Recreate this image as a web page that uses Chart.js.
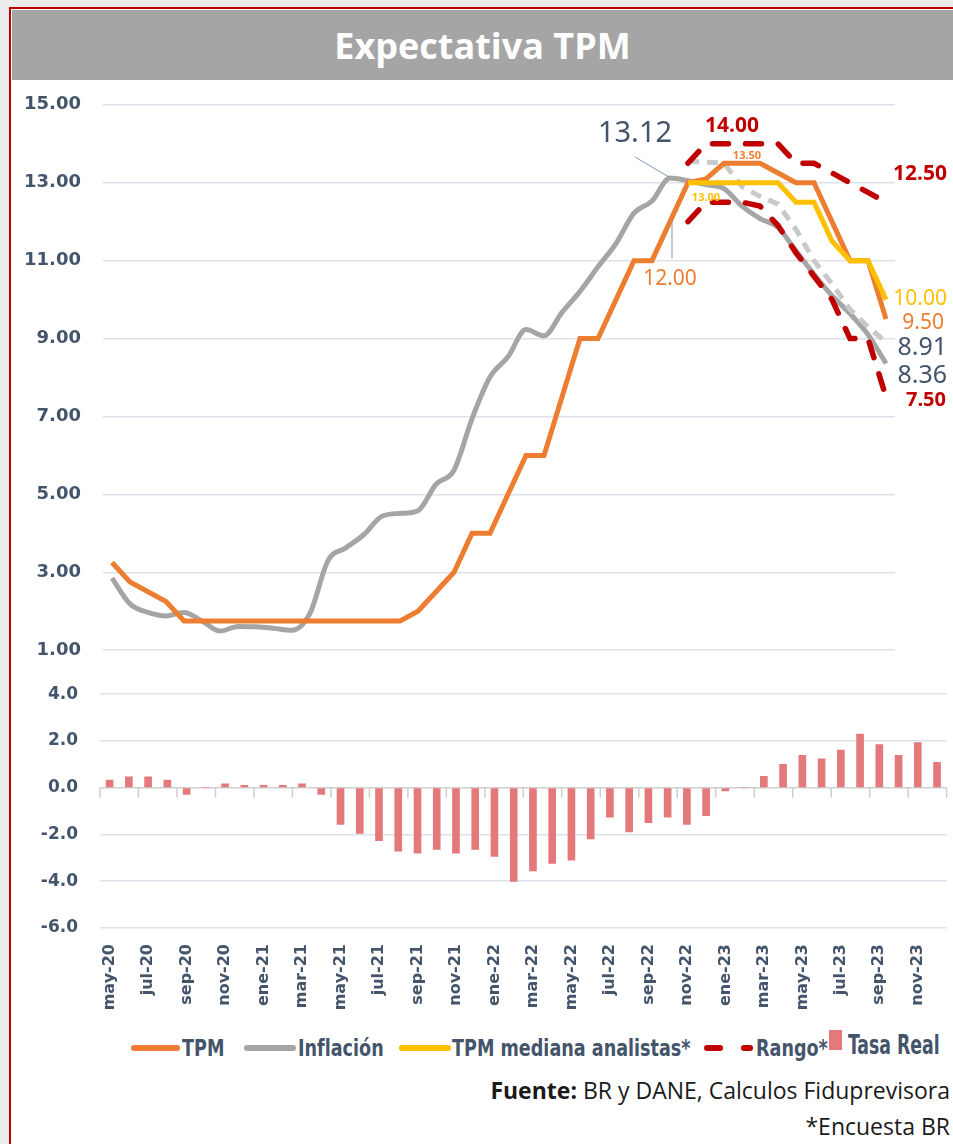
<!DOCTYPE html>
<html lang="es">
<head>
<meta charset="UTF-8">
<title>Expectativa TPM</title>
<script src="https://cdn.jsdelivr.net/npm/chart.js"></script>
<style>
  html, body { margin: 0; padding: 0; }
  body { width: 953px; height: 1144px; overflow: hidden; position: relative; background: #ececec; }
  #marco { position: absolute; left: 9px; top: 7px; width: 980px; height: 1160px; background: #fff;
           border-left: 2px solid #c00000; border-top: 2px solid #c00000; }
  #titulo { position: absolute; left: 12px; top: 10px; width: 941px; height: 70px; background: #a5a5a5;
            color: #fff; font: bold 36px "Open Sans", sans-serif; text-align: center; line-height: 72px; }
  canvas { position: absolute; left: 0; }
  #cTop { top: 72px; }
  #cBot { top: 662px; }
  .ley { position: absolute; top: 1033px; height: 30px; color: #44546a; transform: scaleX(0.85); transform-origin: left center;
         font: bold 23px "Liberation Sans Narrow", "DejaVu Sans Condensed", sans-serif; line-height: 30px; white-space: nowrap; }
  .sw { position: absolute; height: 6px; border-radius: 3px; top: 1045px; }
  .fuente { position: absolute; right: 3px; color: #1a1a1a; font: 23px "Open Sans", sans-serif; white-space: nowrap; }
</style>
</head>
<body>
<div id="marco"></div>
<div id="titulo">Expectativa TPM</div>
<canvas id="cTop" width="953" height="611"></canvas>
<canvas id="cBot" width="953" height="360"></canvas>

<div class="sw" style="left:131px;width:49px;background:#ed7d31"></div>
<div class="ley" style="left:182px">TPM</div>
<div class="sw" style="left:244px;width:52px;background:#a5a5a5"></div>
<div class="ley" style="left:298px">Inflación</div>
<div class="sw" style="left:399px;width:52px;background:#ffc000"></div>
<div class="ley" style="left:452px">TPM mediana analistas*</div>
<div class="sw" style="left:704px;width:19px;background:#c00000"></div>
<div class="sw" style="left:741px;width:12px;background:#c00000"></div>
<div class="ley" style="left:756px">Rango*</div>
<div class="sw" style="left:829px;width:13px;height:20px;border-radius:0;top:1030px;background:#e3797b"></div>
<div class="ley" style="left:848px;top:1030px;font-size:26px;transform:scaleX(0.74)">Tasa Real</div>

<div class="fuente" style="top:1074px"><b>Fuente:</b> BR y DANE, Calculos Fiduprevisora</div>
<div class="fuente" style="top:1110px">*Encuesta BR</div>

<script>
// meses (may-20 a dic-23)
const meses = ['may-20','jun-20','jul-20','ago-20','sep-20','oct-20','nov-20','dic-20',
  'ene-21','feb-21','mar-21','abr-21','may-21','jun-21','jul-21','ago-21','sep-21','oct-21','nov-21','dic-21',
  'ene-22','feb-22','mar-22','abr-22','may-22','jun-22','jul-22','ago-22','sep-22','oct-22','nov-22','dic-22',
  'ene-23','feb-23','mar-23','abr-23','may-23','jun-23','jul-23','ago-23','sep-23','oct-23','nov-23','dic-23'];

const tpm = [3.25, 2.75, 2.50, 2.25, 1.75, 1.75, 1.75, 1.75,
  1.75, 1.75, 1.75, 1.75, 1.75, 1.75, 1.75, 1.75, 1.75, 2.00, 2.50, 3.00,
  4.00, 4.00, 5.00, 6.00, 6.00, 7.50, 9.00, 9.00, 10.00, 11.00, 11.00, 12.00,
  13.00, 13.10, 13.50, 13.50, 13.50, 13.25, 13.00, 13.00, 12.00, 11.00, 11.00, 9.50];

const inflacion = [2.85, 2.19, 1.97, 1.88, 1.97, 1.75, 1.49, 1.61,
  1.60, 1.56, 1.51, 1.95, 3.30, 3.63, 3.97, 4.44, 4.51, 4.58, 5.26, 5.62,
  6.94, 8.01, 8.53, 9.23, 9.07, 9.67, 10.21, 10.84, 11.44, 12.22, 12.53, 13.12,
  13.05, 12.95, 12.85, 12.40, 12.08, 11.85, 11.25, 10.65, 10.10, 9.64, 9.10, 8.36];

// encuesta BR (desde ene-23)
const n = null;
const inflacionEncuesta = [n,n,n,n,n,n,n,n, n,n,n,n,n,n,n,n,n,n,n,n, n,n,n,n,n,n,n,n,n,n,n,n,
  13.55, 13.53, 13.50, 12.90, 12.65, 12.45, 11.80, 11.00, 10.40, 9.75, 9.30, 8.91];
const medianaAnalistas = [n,n,n,n,n,n,n,n, n,n,n,n,n,n,n,n,n,n,n,n, n,n,n,n,n,n,n,n,n,n,n,n,
  13.00, 13.00, 13.00, 13.00, 13.00, 13.00, 12.50, 12.50, 11.50, 11.00, 11.00, 10.00];
const rangoMax = [n,n,n,n,n,n,n,n, n,n,n,n,n,n,n,n,n,n,n,n, n,n,n,n,n,n,n,n,n,n,n,n,
  13.50, 14.00, 14.00, 14.00, 14.00, 14.00, 13.50, 13.50, 13.25, 13.00, 12.75, 12.50];
const rangoMin = [n,n,n,n,n,n,n,n, n,n,n,n,n,n,n,n,n,n,n,n, n,n,n,n,n,n,n,n,n,n,n,n,
  12.00, 12.50, 12.50, 12.50, 12.40, 11.90, 11.20, 10.60, 10.00, 9.00, 9.00, 7.50];

const tasaReal = [0.33, 0.47, 0.47, 0.33, -0.29, 0, 0.17, 0.10,
  0.10, 0.10, 0.17, -0.29, -1.57, -1.96, -2.26, -2.71, -2.80, -2.64, -2.80, -2.64,
  -2.94, -4.01, -3.56, -3.24, -3.10, -2.19, -1.26, -1.89, -1.50, -1.26, -1.57, -1.20,
  -0.14, 0, 0.49, 1.00, 1.39, 1.24, 1.61, 2.29, 1.84, 1.39, 1.93, 1.09];

const ticksTop = [1, 3, 5, 7, 9, 11, 13, 15];
const ticksBot = [-6, -4, -2, 0, 2, 4];

const naranja = '#ed7d31', gris = '#a5a5a5', grisClaro = '#c9c9c9', amarillo = '#ffc000',
      rojo = '#c00000', pizarra = '#44546a', rosa = '#e3797b', rejilla = '#dde2ea';

// etiquetas de datos del grafico superior
const etiquetas = [
  { serie: 'rangoMax', idx: 34, dx: 8, dy: -18, color: rojo, font: 'bold 21px "Noto Sans"', align: 'center' },
  { serie: 'tpm', idx: 34, dx: 23, dy: -7, color: naranja, font: 'bold 11px "Noto Sans"', align: 'center' },
  { serie: 'mediana', idx: 32, dx: 18, dy: 15, color: amarillo, font: 'bold 11px "Noto Sans"', align: 'center' },
  { serie: 'inflacion', idx: 31, dx: -35, dy: -44, color: pizarra, font: '29px "Noto Sans"', align: 'center',
    linea: [-35, -21, -1, -1] },
  { serie: 'tpm', idx: 31, dx: 0, dy: 57, color: naranja, font: '21px "Noto Sans"', align: 'center',
    linea: [2, 37, 2, 0] },
  { serie: 'rangoMax', idx: 43, dx: 61, dy: -28, color: rojo, font: 'bold 21px "Noto Sans"', align: 'right' },
  { serie: 'mediana', idx: 43, dx: 61, dy: -1, color: amarillo, font: '21px "Noto Sans"', align: 'right' },
  { serie: 'tpm', idx: 43, dx: 58, dy: 4, color: naranja, font: '21px "Noto Sans"', align: 'right' },
  { serie: 'inflacionEncuesta', idx: 43, dx: 61, dy: 6, color: pizarra, font: '25px "Noto Sans"', align: 'right' },
  { serie: 'inflacion', idx: 43, dx: 61, dy: 12, color: pizarra, font: '25px "Noto Sans"', align: 'right' },
  { serie: 'rangoMin', idx: 43, dx: 60, dy: 3, color: rojo, font: 'bold 20px "Noto Sans"', align: 'right' }
];

const pluginEtiquetas = {
  id: 'etiquetas',
  afterDatasetsDraw(chart) {
    const ctx = chart.ctx;
    etiquetas.forEach(e => {
      const k = chart.data.datasets.findIndex(d => d.clave === e.serie);
      const pt = chart.getDatasetMeta(k).data[e.idx];
      const v = chart.data.datasets[k].data[e.idx];
      ctx.save();
      if (e.linea) {
        ctx.strokeStyle = '#8497b0';
        ctx.lineWidth = 1;
        ctx.beginPath();
        ctx.moveTo(pt.x + e.linea[0], pt.y + e.linea[1]);
        ctx.lineTo(pt.x + e.linea[2], pt.y + e.linea[3]);
        ctx.stroke();
      }
      ctx.font = e.font;
      ctx.fillStyle = e.color;
      ctx.textAlign = e.align;
      ctx.textBaseline = 'middle';
      ctx.fillText(v.toFixed(2), pt.x + e.dx, pt.y + e.dy);
      ctx.restore();
    });
  }
};

const serie = (clave, data, color, extra) => Object.assign({
  clave, data, borderColor: color, backgroundColor: color, borderWidth: 5,
  pointRadius: 0, pointHoverRadius: 0, fill: false, tension: 0, borderCapStyle: 'butt', spanGaps: false
}, extra || {});

new Chart(document.getElementById('cTop'), {
  type: 'line',
  data: {
    labels: meses,
    datasets: [
      serie('rangoMax', rangoMax, rojo, { borderDash: [16, 17], borderCapStyle: 'round', borderWidth: 5.5 }),
      serie('rangoMin', rangoMin, rojo, { borderDash: [16, 17], borderCapStyle: 'round', borderWidth: 5.5 }),
      serie('mediana', medianaAnalistas, amarillo),
      serie('tpm', tpm, naranja),
      serie('inflacionEncuesta', inflacionEncuesta, grisClaro, { borderDash: [11, 8] }),
      serie('inflacion', inflacion, gris, { cubicInterpolationMode: 'monotone' })
    ]
  },
  options: {
    responsive: false,
    animation: false,
    layout: { padding: { top: 20, bottom: 23, left: 0, right: 58 } },
    plugins: { legend: { display: false }, tooltip: { enabled: false } },
    scales: {
      x: { offset: true, display: false },
      y: {
        min: 1, max: 15,
        afterBuildTicks: s => { s.ticks = ticksTop.map(v => ({ value: v })); },
        afterFit: s => { s.width = 103; },
        ticks: { callback: v => v.toFixed(2), color: pizarra, padding: 22,
                 font: { family: '"DejaVu Sans"', size: 18, weight: 'bold' } },
        grid: { color: rejilla, lineWidth: 1.5, drawTicks: false },
        border: { display: false }
      }
    }
  },
  plugins: [pluginEtiquetas]
});

const pluginMarcas = {
  id: 'marcas',
  afterDraw(chart) {
    const xs = chart.scales.x, ys = chart.scales.y, ctx = chart.ctx;
    const y0 = ys.getPixelForValue(0);
    const paso = xs.width / meses.length;
    ctx.save();
    ctx.strokeStyle = '#cfcfcf';
    ctx.lineWidth = 1.5;
    ctx.beginPath();
    for (let k = 0; k <= meses.length; k += 2) {
      const x = xs.getPixelForValue(k) - paso / 2;
      ctx.moveTo(x, y0);
      ctx.lineTo(x, y0 + 10);
    }
    ctx.stroke();
    ctx.restore();
  }
};

new Chart(document.getElementById('cBot'), {
  type: 'bar',
  data: {
    labels: meses,
    datasets: [{ label: 'Tasa Real', data: tasaReal, backgroundColor: rosa, barThickness: 7 }]
  },
  options: {
    responsive: false,
    animation: false,
    layout: { padding: { top: 13, bottom: 0, left: 0, right: 0 } },
    plugins: { legend: { display: false }, tooltip: { enabled: false } },
    scales: {
      x: {
        offset: true,
        grid: { display: false, drawTicks: false },
        border: { display: false },
        afterFit: s => { s.height = 94; },
        ticks: { autoSkip: false, minRotation: 90, maxRotation: 90, padding: 16, color: pizarra,
                 font: { family: '"DejaVu Sans"', size: 16, weight: 'bold' },
                 callback: (v, i) => (i % 2 === 0 ? meses[i] : null) }
      },
      y: {
        min: -6, max: 4,
        afterBuildTicks: s => { s.ticks = ticksBot.map(v => ({ value: v })); },
        afterFit: s => { s.width = 100; },
        ticks: { callback: v => v.toFixed(1), color: pizarra, padding: 22,
                 font: { family: '"DejaVu Sans"', size: 17, weight: 'bold' } },
        grid: { color: c => (c.tick && c.tick.value === 0 ? '#d0d0d0' : rejilla), lineWidth: 1.5, drawTicks: false },
        border: { display: false }
      }
    }
  },
  plugins: [pluginMarcas]
});
</script>
</body>
</html>
